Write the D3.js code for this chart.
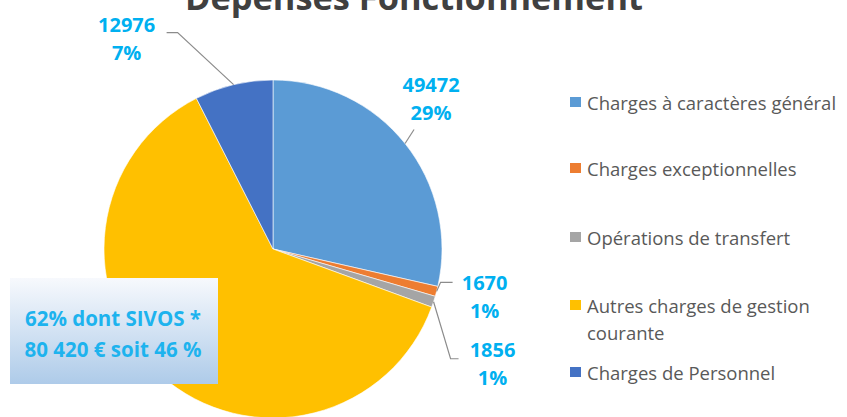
<!DOCTYPE html>
<html>
<head>
<meta charset="utf-8">
<script src="https://cdn.jsdelivr.net/npm/d3@7"></script>
<style>
  body { margin: 0; background: #ffffff; }
  svg { display: block; font-family: "Open Sans", "Noto Sans", sans-serif; }
</style>
</head>
<body>
<svg width="847" height="417"></svg>
<script>
// data
const categories = ["Charges à caractères général", "Charges exceptionnelles", "Opérations de transfert",
                    "Autres charges de gestion courante", "Charges de Personnel"]
const values = [49472, 1670, 1856, 107300, 12976]
const colors = ["#5B9BD5", "#ED7D31", "#A5A5A5", "#FFC000", "#4472C4"]
const showLabel = [true, true, true, false, true]
const noteLines = ["62% dont SIVOS *", "80 420 € soit 46 %"]
const title = "Dépenses Fonctionnement"

// layout of the data labels, relative to the slice edge / the label
const labelOffset = [[26, -59], [48, -9], [59, 48], null, [-107, -60]]
const leaderPts = [[[-17, 45]], [[-44, 0], [-32, 0]], [[-42, 9], [-34, 9]], null, [[51, 8], [40, 8]]]

const svg = d3.select("svg")
const cx = 273, cy = 249, r = 169
const total = d3.sum(values)

// title, cut at the top like the source
const t = svg.append("text")
    .attr("x", 414).attr("y", 10)
    .attr("text-anchor", "middle")
    .attr("font-weight", "bold")
    .attr("fill", "#404040")
    .attr("font-size", 30)
    .text(title)
let tw = t.node().getComputedTextLength()
t.attr("font-size", 30 * 458 / tw)

const pie = d3.pie().sort(null).value(d => d)
const arcs = pie(values)
const arc = d3.arc().innerRadius(0).outerRadius(r)
const edge = d3.arc().innerRadius(r).outerRadius(r)

const g = svg.append("g").attr("transform", "translate(" + cx + "," + cy + ")")
g.selectAll("path.slice").data(arcs).enter().append("path")
    .attr("class", "slice")
    .attr("d", arc)
    .attr("fill", (d, i) => colors[i])
    .attr("stroke", "#ffffff")
    .attr("stroke-width", 0.6)

// data labels + leader lines
arcs.forEach(function(a, i) {
    if (!showLabel[i]) return
    const e = edge.centroid(a)
    const lx = e[0] + labelOffset[i][0]
    const ly = e[1] + labelOffset[i][1]
    const pts = [e].concat(leaderPts[i].map(p => [lx + p[0], ly + p[1]]))
    g.append("path")
        .attr("d", d3.line()(pts))
        .attr("fill", "none")
        .attr("stroke", "#8c8c8c")
        .attr("stroke-width", 1.2)
    const pct = Math.round(values[i] / total * 100) + "%"
    ;[String(values[i]), pct].forEach(function(s, k) {
        g.append("text")
            .attr("x", lx).attr("y", ly + k * 28)
            .attr("text-anchor", "middle")
            .attr("dominant-baseline", "central")
            .attr("font-weight", "bold")
            .attr("font-size", 20)
            .attr("fill", "#00B0F0")
            .text(s)
    })
})

// note box
const defs = svg.append("defs")
const grad = defs.append("linearGradient").attr("id", "boxGrad")
    .attr("x1", 0).attr("y1", 0).attr("x2", 0).attr("y2", 1)
grad.append("stop").attr("offset", "0%").attr("stop-color", "#f7f9fd")
grad.append("stop").attr("offset", "55%").attr("stop-color", "#cfe0f2")
grad.append("stop").attr("offset", "100%").attr("stop-color", "#aecbe9")
svg.append("rect")
    .attr("x", 10).attr("y", 278).attr("width", 208).attr("height", 106)
    .attr("fill", "url(#boxGrad)")
noteLines.forEach(function(s, k) {
    svg.append("text")
        .attr("x", 113).attr("y", 318 + k * 31)
        .attr("text-anchor", "middle")
        .attr("dominant-baseline", "central")
        .attr("font-weight", "bold")
        .attr("font-size", 20.5)
        .attr("fill", "#1DB3EE")
        .text(s)
})

// legend
const legendRows = [102, 168, 237, 305, 372]
const legend = svg.append("g").attr("transform", "translate(570,0)")
categories.forEach(function(c, i) {
    const row = legend.append("g").attr("transform", "translate(0," + legendRows[i] + ")")
    row.append("rect").attr("x", 0).attr("y", -5).attr("width", 11).attr("height", 10).attr("fill", colors[i])
    const words = i == 3 ? ["Autres charges de gestion", "courante"] : [c]
    words.forEach(function(w, k) {
        row.append("text")
            .attr("x", 17).attr("y", k * 27)
            .attr("dominant-baseline", "central")
            .attr("font-size", 18.5)
            .attr("fill", "#595959")
            .text(w)
    })
})
</script>
</body>
</html>
